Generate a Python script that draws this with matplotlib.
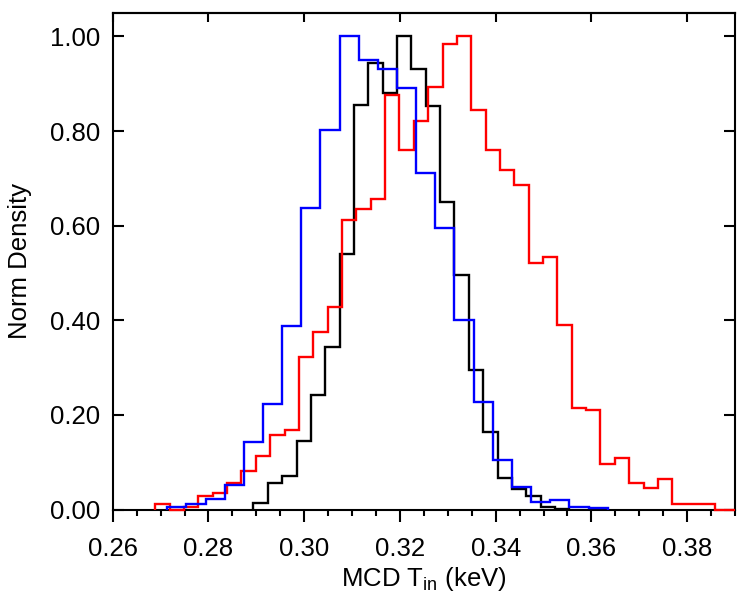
import matplotlib
matplotlib.use('Agg')
import matplotlib.pyplot as plt
from matplotlib.ticker import MultipleLocator, FormatStrFormatter
import numpy as np

plt.rcParams['font.family'] = ['Liberation Sans', 'DejaVu Sans']
plt.rcParams['mathtext.fontset'] = 'custom'
plt.rcParams['mathtext.rm'] = 'Liberation Sans'

# blue: bin width 0.004
blue_start = 0.2714
blue_width = 0.004
blue = [0.006, 0.012, 0.022, 0.052, 0.142, 0.224, 0.387, 0.638, 0.803, 1.0,
        0.951, 0.930, 0.891, 0.712, 0.596, 0.401, 0.227, 0.104, 0.048, 0.015,
        0.020, 0.006, 0.0025]

# black: bin width 0.003
black_start = 0.2894
black_width = 0.003
black = [0.013, 0.055, 0.071, 0.144, 0.243, 0.343, 0.541, 0.856, 0.943, 0.881,
         1.0, 0.930, 0.853, 0.650, 0.496, 0.294, 0.164, 0.066, 0.043, 0.029,
         0.006, 0.002]

# red: bin width 0.003
red_start = 0.2689
red_width = 0.003
red = [0.012, 0.0, 0.005, 0.028, 0.035, 0.056, 0.081, 0.113, 0.158, 0.168,
       0.322, 0.375, 0.429, 0.612, 0.636, 0.656, 0.877, 0.759, 0.821, 0.893,
       0.983, 1.0, 0.844, 0.760, 0.718, 0.686, 0.522, 0.533, 0.391, 0.215,
       0.211, 0.097, 0.108, 0.057, 0.045, 0.064, 0.012, 0.012, 0.012, 0.0,
       0.0]

xmin, xmax = 0.26, 0.39


def edges(start, width, vals):
    e = start + width * np.arange(len(vals) + 1)
    return np.minimum(e, xmax)


fig = plt.figure(figsize=(7.5, 6), dpi=100)
ax = fig.add_axes([0.1503, 0.1508, 0.8297, 0.828])

ax.stairs(black, edges(black_start, black_width, black), baseline=0, color='black',
          lw=1.7, zorder=3, clip_on=False)
ax.stairs(red, edges(red_start, red_width, red), baseline=0, color='red',
          lw=1.7, zorder=3, clip_on=False)
ax.stairs(blue, edges(blue_start, blue_width, blue), baseline=0, color='blue',
          lw=1.7, zorder=3, clip_on=False)

ax.set_xlim(xmin, xmax)
ax.set_ylim(0, 1.05)

ax.xaxis.set_major_locator(MultipleLocator(0.02))
ax.xaxis.set_minor_locator(MultipleLocator(0.005))
ax.xaxis.set_major_formatter(FormatStrFormatter('%.2f'))
ax.yaxis.set_major_locator(MultipleLocator(0.2))
ax.yaxis.set_major_formatter(FormatStrFormatter('%.2f'))

ax.tick_params(axis='x', which='major', direction='out', length=8.5, width=1.5,
               labelsize=18.5, pad=11, top=False)
ax.tick_params(axis='x', which='minor', direction='out', length=4.3, width=1.5, top=False)
ax.tick_params(axis='y', which='major', direction='in', length=8, width=1.5,
               labelsize=18.5, pad=9, right=True)

top = ax.secondary_xaxis('top')
top.xaxis.set_major_locator(MultipleLocator(0.02))
top.tick_params(axis='x', direction='in', length=6.5, width=1.5, labeltop=False)
top.spines['top'].set_linewidth(1.5)

for s in ax.spines.values():
    s.set_linewidth(1.5)

ax.set_xlabel(r'MCD T$_{\mathrm{in}}$ (keV)', fontsize=18.5, labelpad=3)
ax.set_ylabel('Norm Density', fontsize=18.5, labelpad=13)

fig.savefig('out.png', dpi=100)
